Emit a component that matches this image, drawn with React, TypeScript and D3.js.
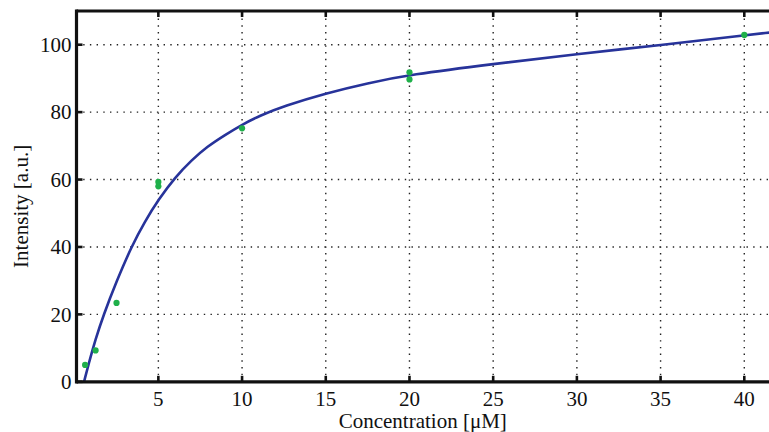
import React from "react";
import * as d3 from "d3";

// Measured data points
const pointX = [0.625, 1.25, 2.5, 5, 5, 10, 20, 20, 40];
const pointY = [5, 9.3, 23.4, 58.0, 59.3, 75.2, 89.7, 91.8, 102.9];

// Fitted curve
const curveX = [0.56, 0.9, 1.22, 1.72, 2.5, 3.41, 4.2, 5, 6, 7, 7.89, 9, 10, 11.07, 12.5, 15, 17.5, 20, 25, 30, 35, 40, 41.5];
const curveY = [0, 6.5, 12.2, 19.8, 29.8, 40.3, 47.6, 54, 60.7, 65.8, 69.7, 73.3, 76.3, 79, 81.8, 85.6, 88.6, 91.1, 94.3, 97.2, 99.9, 102.8, 103.6];

const xTicks = [5, 10, 15, 20, 25, 30, 35, 40];
const yTicks = [0, 20, 40, 60, 80, 100];

const W = 769;
const H = 432;
const FONT = "'Liberation Serif', 'Times New Roman', serif";

export default function App() {
  const x = d3.scaleLinear().domain([0.11, 41.5]).range([76.5, 769.4]);
  const y = d3.scaleLinear().domain([0, 110]).range([381.8, 11]);
  const [x0, x1] = [76.5, W];
  const [yb, yt] = [381.8, 11];

  const line = d3
    .line<number>()
    .x((_, i) => x(curveX[i]))
    .y((_, i) => y(curveY[i]))
    .curve(d3.curveBasis);

  const gridStyle = { stroke: "#222", strokeWidth: 1.4, strokeDasharray: "1.4,5.3" };
  const textStyle = { fontFamily: FONT };

  return (
    <svg
      width={W}
      height={H}
      style={{ position: "absolute", left: 0, top: 0, background: "#fff" }}
    >
      <rect x={0} y={0} width={W} height={H} fill="#fff" />
      {/* grid */}
      {xTicks.map((t) => (
        <line key={"gx" + t} x1={x(t)} x2={x(t)} y1={yb} y2={yt} {...gridStyle} />
      ))}
      {yTicks.filter((t) => t > 0).map((t) => (
        <line key={"gy" + t} x1={x0} x2={x1} y1={y(t)} y2={y(t)} {...gridStyle} />
      ))}
      {/* curve */}
      <path d={line(curveX) || ""} fill="none" stroke="#27339a" strokeWidth={2.6} />
      {/* points */}
      {pointX.map((px, i) => (
        <circle key={"p" + i} cx={x(px)} cy={y(pointY[i])} r={3.1} fill="#1fb04a" />
      ))}
      {/* axes */}
      <line x1={x0} x2={x1} y1={yb} y2={yb} stroke="#111" strokeWidth={3.2} />
      <line x1={x0} x2={x1} y1={yt} y2={yt} stroke="#111" strokeWidth={3} />
      <line x1={x0} x2={x0} y1={yt - 1.5} y2={yb + 1.6} stroke="#111" strokeWidth={3.2} />
      {xTicks.map((t) => (
        <g key={"tx" + t}>
          <line x1={x(t)} x2={x(t)} y1={yb} y2={yb - 6} stroke="#111" strokeWidth={2.6} />
          <line x1={x(t)} x2={x(t)} y1={yt} y2={yt + 6} stroke="#111" strokeWidth={2.6} />
          <text x={x(t)} y={406} textAnchor="middle" fontSize={21} fill="#111" style={textStyle}>
            {t}
          </text>
        </g>
      ))}
      {yTicks.map((t) => (
        <g key={"ty" + t}>
          <line x1={x0} x2={x0 + 6} y1={y(t)} y2={y(t)} stroke="#111" strokeWidth={2.6} />
          <text x={71.5} y={y(t) + 7.3} textAnchor="end" fontSize={21} fill="#111" style={textStyle}>
            {t}
          </text>
        </g>
      ))}
      <text x={(x0 + x1) / 2} y={428} textAnchor="middle" fontSize={21} fill="#111" style={textStyle}>
        Concentration [μM]
      </text>
      <text
        transform={`translate(28, ${(yt + yb) / 2 + 10}) rotate(-90)`}
        textAnchor="middle"
        fontSize={21}
        fill="#111"
        style={textStyle}
      >
        Intensity [a.u.]
      </text>
    </svg>
  );
}
